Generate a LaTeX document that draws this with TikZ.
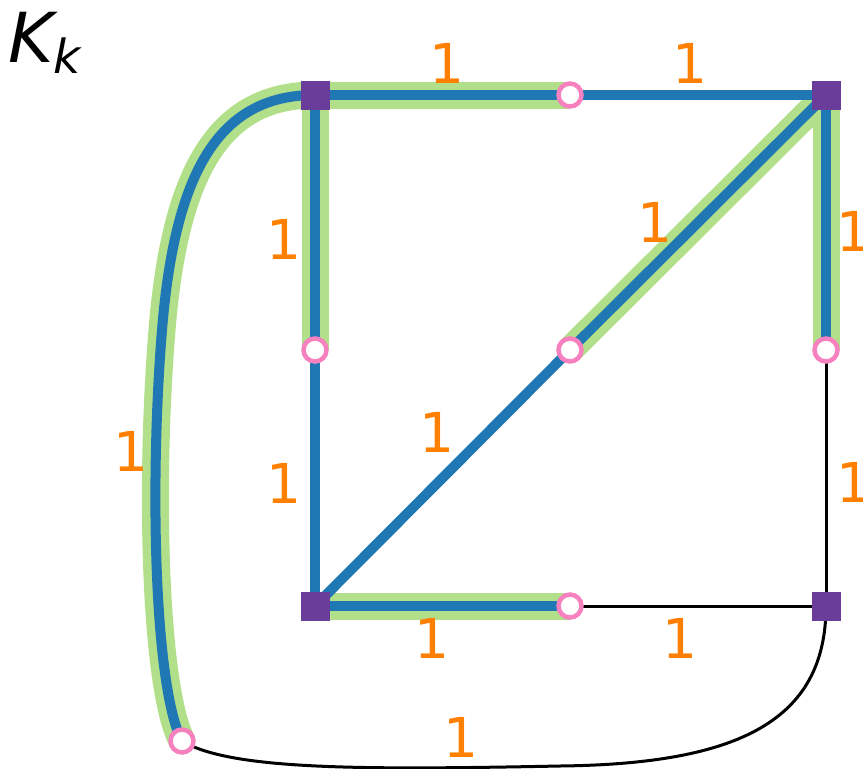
\documentclass[tikz,border=0pt]{standalone}
\usepackage{fontspec}
\setmainfont{DejaVu Sans}
\definecolor{hlgreen}{HTML}{B2DF8A}
\definecolor{eblue}{HTML}{1F78B4}
\definecolor{sqpurple}{HTML}{6A3D9A}
\definecolor{cpink}{HTML}{F781BF}
\definecolor{lorange}{HTML}{FF7F00}
\begin{document}
\begin{tikzpicture}[x=1pt,y=-1pt,
  sq/.style={rectangle,fill=sqpurple,minimum size=29pt,inner sep=0pt,draw=none},
  circ/.style={circle,draw=cpink,fill=white,line width=4.5pt,minimum size=23pt,inner sep=0pt},
  hl/.style={draw=hlgreen,line width=27pt},
  be/.style={draw=eblue,line width=10pt},
  ke/.style={draw=black,line width=3pt},
  lab/.style={text=lorange,font=\fontsize{55}{60}\selectfont,inner sep=0pt}]
\useasboundingbox (0,0) rectangle (863,769);
\clip (0,0) rectangle (863,769);
% node positions
\coordinate (pA) at (315,95);
\coordinate (pB) at (826,95);
\coordinate (pC) at (315,606);
\coordinate (pD) at (826,606);
\coordinate (pT) at (570,95);
\coordinate (pL) at (315,350);
\coordinate (pM) at (570,350);
\coordinate (pR) at (826,350);
\coordinate (pBm) at (570,606);
\coordinate (pF) at (182,741);
\coordinate (mL) at (162,330);
\coordinate (mB) at (560,766);
% green highlights
\path[hl] (pA) -- (pT);
\path[hl] (pA) -- (pL);
\path[hl] (pB) -- (pR);
\path[hl] (pB) -- (pM);
\path[hl] (pC) -- (pBm);
\path[hl] (pA) .. controls (220,95) and (175,170) .. (mL) .. controls (149,490) and (155,690) .. (pF);
% blue edges
\path[be] (pA) -- (pT);
\path[be] (pT) -- (pB);
\path[be] (pA) -- (pL);
\path[be] (pB) -- (pR);
\path[be] (pB) -- (pM);
\path[be] (pM) -- (pC);
\path[be] (pL) -- (pC);
\path[be] (pC) -- (pBm);
\path[be] (pA) .. controls (220,95) and (175,170) .. (mL) .. controls (149,490) and (155,690) .. (pF);
% black edges
\path[ke] (pBm) -- (pD);
\path[ke] (pR) -- (pD);
\path[ke] (pD) .. controls (826,720) and (740,764) .. (mB) .. controls (360,770) and (230,770) .. (pF);
% vertices
\node[sq] (A) at (pA) {};
\node[sq] (B) at (pB) {};
\node[sq] (C) at (pC) {};
\node[sq] (D) at (pD) {};
\node[circ] (T) at (pT) {};
\node[circ] (L) at (pL) {};
\node[circ] (M) at (pM) {};
\node[circ] (R) at (pR) {};
\node[circ] (Bm) at (pBm) {};
\node[circ] (F) at (pF) {};
% labels
\node[lab] (l1) at (447,63) {1};
\node[lab] (l2) at (690,63) {1};
\node[lab] (l3) at (284,239) {1};
\node[lab] (l4) at (655,222) {1};
\node[lab] (l5) at (854,231) {1};
\node[lab] (l6) at (131,451) {1};
\node[lab] (l7) at (437,432) {1};
\node[lab] (l8) at (284,483) {1};
\node[lab] (l9) at (854,482) {1};
\node[lab] (l10) at (432,638) {1};
\node[lab] (l11) at (680,638) {1};
\node[lab] (l12) at (461,737) {1};
% title
\node[anchor=base west,inner sep=0pt] (title) at (8,62) {\fontsize{69}{80}\selectfont\itshape K\raisebox{-11pt}{\fontsize{47}{50}\selectfont k}};
\end{tikzpicture}
\end{document}
